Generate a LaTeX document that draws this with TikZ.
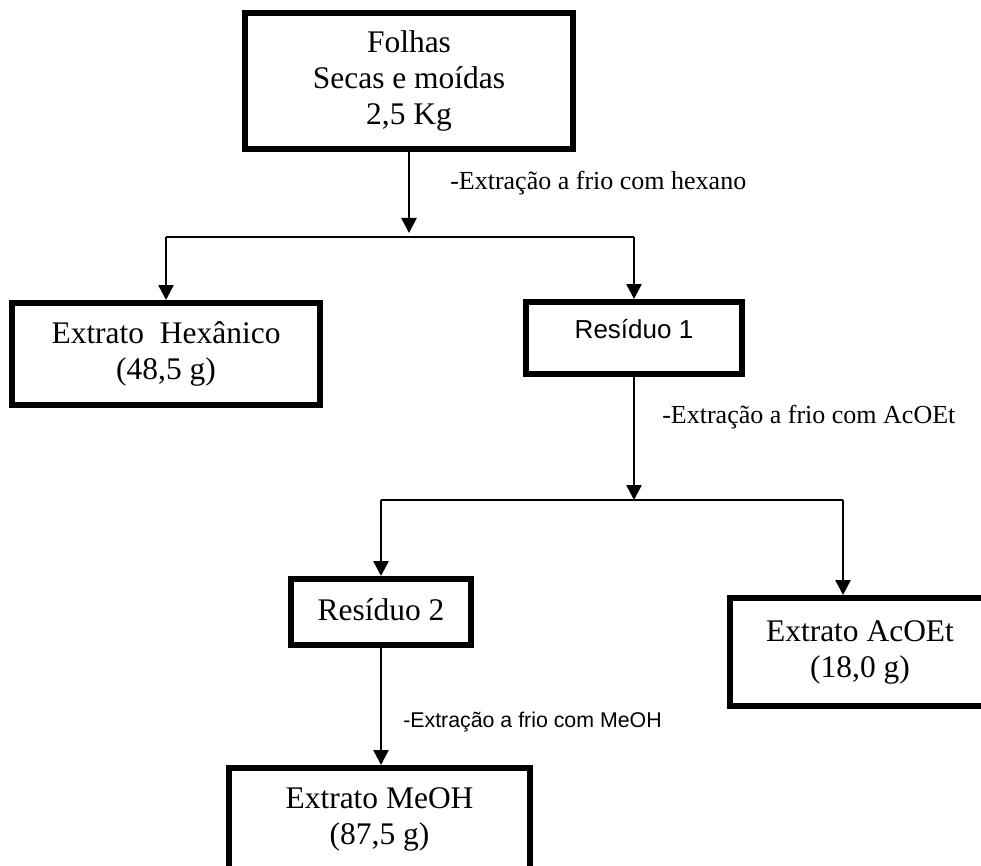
\documentclass[tikz,border=0pt]{standalone}
\usepackage{fontspec}
\setmainfont{Liberation Serif}
\setsansfont{Liberation Sans}
\usetikzlibrary{arrows.meta}

\begin{document}
\begin{tikzpicture}[
    x=0.75pt, y=-0.75pt,
    caixa/.style={rectangle, draw, line width=4.5pt, inner sep=0pt, align=center, font=\fontsize{23.6}{27}\selectfont},
    caixasf/.style={caixa, font=\sffamily\fontsize{19.5}{23}\selectfont},
    rotulo/.style={anchor=base west, inner sep=0pt, font=\fontsize{19.5}{23}\selectfont},
    rotulosf/.style={rotulo, font=\sffamily\fontsize{16}{19}\selectfont},
    linha/.style={line width=1.9pt},
    seta/.style={linha, -{Triangle[width=11.25pt, length=11.25pt]}},
]
\useasboundingbox (0,0) rectangle (981,866);
\clip (0,0) rectangle (981,866);

% Nivel 0: material de partida
\node[caixa, minimum width=246pt, minimum height=102pt] (folhas) at (409,81) {Folhas\\Secas e moídas\\2,5 Kg};

% Nivel 1: extrato hexanico e residuo 1
\node[caixa, minimum width=231pt, minimum height=76.5pt] (hexanico) at (166,354) {Extrato\ \ Hexânico\\(48,5 g)};
\node[caixasf, minimum width=162pt, minimum height=54pt, text height=15pt, text depth=15pt] (residuo1) at (634,338) {Resíduo 1};

% Nivel 2: residuo 2 e extrato AcOEt
\node[caixa, minimum width=135pt, minimum height=49.5pt, text height=16.5pt, text depth=4.5pt] (residuo2) at (381,612) {Resíduo 2};
\node[caixa, minimum width=195pt, minimum height=81pt] (acoet) at (860,652) {Extrato AcOEt\\(18,0 g)};

% Nivel 3: extrato MeOH
\node[caixa, minimum width=225.75pt, minimum height=76.5pt] (meoh) at (379.5,819) {Extrato MeOH\\(87,5 g)};

% Rotulos das extracoes
\node[rotulo] (lhex) at (450,190) {-Extração a frio com hexano};
\node[rotulo] (lacoet) at (662,423) {-Extração a frio com AcOEt};
\node[rotulosf] (lmeoh) at (403,727) {-Extração a frio com MeOH};

% Pontos de ramificacao
\coordinate (j1) at (409,237);
\coordinate (e1) at (166,237);
\coordinate (d1) at (634,237);
\coordinate (j2) at (634,500);
\coordinate (e2) at (381,500);
\coordinate (d2) at (843,500);

% Primeira extracao
\draw[seta, shorten >=3pt] (folhas.south) -- (j1);
\draw[linha] (e1) -- (d1);
\draw[seta] (e1) -- (hexanico.north);
\draw[seta] (d1) -- (residuo1.north);

% Segunda extracao
\draw[seta] (residuo1.south) -- (j2);
\draw[linha] (e2) -- (d2);
\draw[seta] (e2) -- (residuo2.north);
\draw[seta] (d2) -- (d2 |- acoet.north);

% Terceira extracao
\draw[seta] (residuo2.south) -- (residuo2.south |- meoh.north);

\end{tikzpicture}
\end{document}
